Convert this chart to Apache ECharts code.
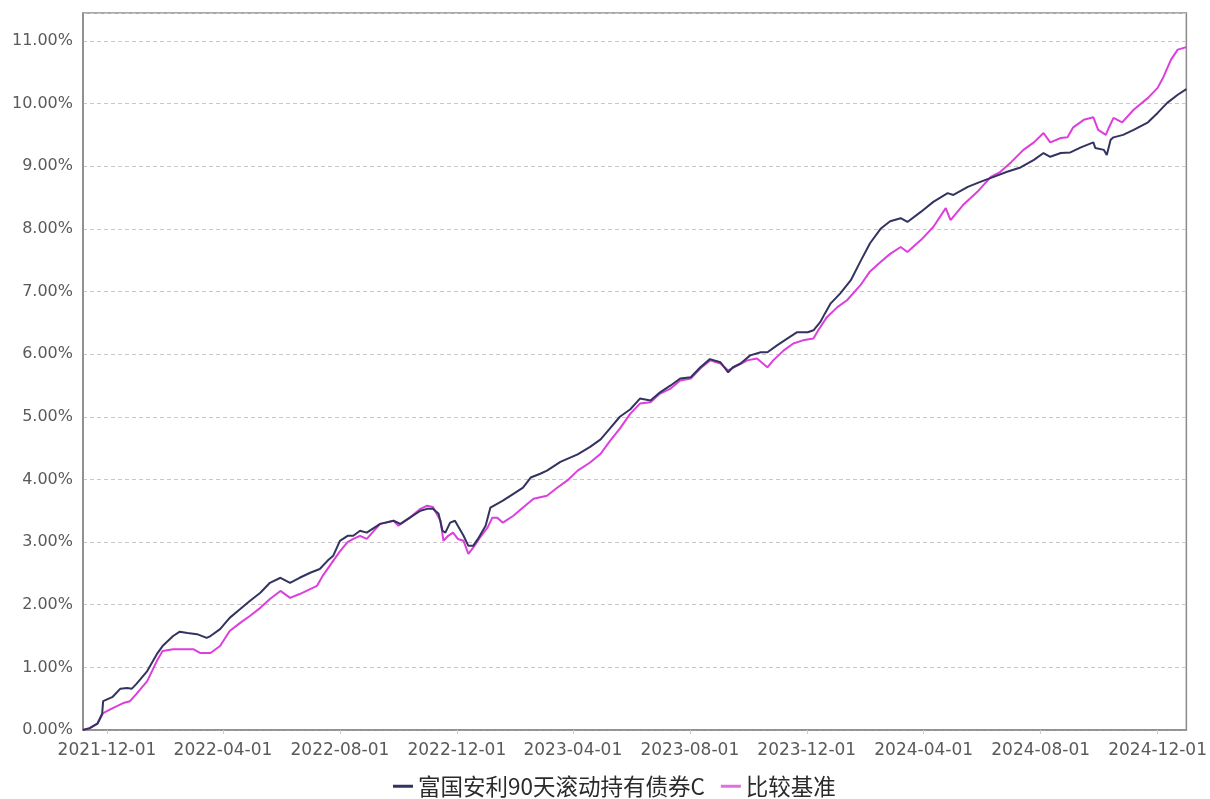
<!DOCTYPE html>
<html>
<head>
<meta charset="utf-8">
<script src="https://cdn.jsdelivr.net/npm/echarts@6/dist/echarts.min.js"></script>
<style>
html,body{margin:0;padding:0;background:#fff;}
#chart{width:1210px;height:799px;}
</style>
</head>
<body>
<div id="chart"></div>
<script>
var seriesNames = ['富国安利90天滚动持有债券C', '比较基准'];
var xTickLabels = ['2021-12-01','2022-04-01','2022-08-01','2022-12-01','2023-04-01','2023-08-01','2023-12-01','2024-04-01','2024-08-01','2024-12-01'];
var yTicks = [0,1,2,3,4,5,6,7,8,9,10,11];

var fundDates = ['2021-11-06','2021-11-13','2021-11-21','2021-11-26','2021-11-27','2021-12-07','2021-12-15','2021-12-22','2021-12-27','2022-01-01','2022-01-12','2022-01-22','2022-01-28','2022-02-08','2022-02-15','2022-02-23','2022-03-05','2022-03-15','2022-03-19','2022-03-29','2022-04-08','2022-04-19','2022-04-29','2022-05-10','2022-05-20','2022-05-31','2022-06-10','2022-06-20','2022-07-01','2022-07-11','2022-07-19','2022-07-25','2022-08-01','2022-08-09','2022-08-15','2022-08-22','2022-08-29','2022-09-12','2022-09-26','2022-10-03','2022-10-13','2022-10-24','2022-10-31','2022-11-06','2022-11-12','2022-11-16','2022-11-19','2022-11-24','2022-11-29','2022-12-02','2022-12-08','2022-12-13','2022-12-18','2022-12-23','2022-12-31','2023-01-05','2023-01-12','2023-01-18','2023-01-29','2023-02-08','2023-02-16','2023-02-26','2023-03-05','2023-03-19','2023-04-06','2023-04-19','2023-04-30','2023-05-10','2023-05-20','2023-05-31','2023-06-10','2023-06-21','2023-07-01','2023-07-12','2023-07-22','2023-08-02','2023-08-12','2023-08-22','2023-09-02','2023-09-10','2023-09-15','2023-09-23','2023-10-03','2023-10-14','2023-10-21','2023-10-31','2023-11-11','2023-11-21','2023-12-02','2023-12-08','2023-12-15','2023-12-20','2023-12-26','2024-01-05','2024-01-16','2024-01-26','2024-02-05','2024-02-16','2024-02-26','2024-03-08','2024-03-15','2024-03-29','2024-04-11','2024-04-26','2024-05-02','2024-05-17','2024-05-30','2024-06-13','2024-06-27','2024-07-11','2024-07-25','2024-08-04','2024-08-11','2024-08-22','2024-09-01','2024-09-12','2024-09-25','2024-09-27','2024-10-06','2024-10-09','2024-10-13','2024-10-16','2024-10-26','2024-11-06','2024-11-21','2024-12-01','2024-12-11','2024-12-22','2024-12-31'];
var fundValues = [0.00,0.03,0.10,0.26,0.46,0.53,0.66,0.67,0.66,0.74,0.94,1.21,1.34,1.50,1.57,1.55,1.53,1.47,1.50,1.61,1.79,1.93,2.06,2.19,2.35,2.43,2.35,2.43,2.51,2.57,2.70,2.78,3.02,3.10,3.10,3.18,3.15,3.29,3.34,3.29,3.39,3.50,3.53,3.53,3.45,3.18,3.15,3.31,3.34,3.26,3.10,2.94,2.94,3.05,3.26,3.55,3.61,3.66,3.77,3.87,4.03,4.09,4.14,4.28,4.40,4.52,4.64,4.82,5.00,5.12,5.29,5.26,5.39,5.50,5.61,5.63,5.79,5.92,5.87,5.71,5.79,5.85,5.98,6.03,6.03,6.14,6.25,6.35,6.35,6.38,6.51,6.65,6.81,6.97,7.18,7.48,7.77,8.00,8.12,8.17,8.11,8.27,8.43,8.57,8.54,8.67,8.75,8.83,8.91,8.98,9.10,9.21,9.15,9.21,9.22,9.30,9.38,9.29,9.26,9.18,9.42,9.46,9.50,9.58,9.70,9.85,10.01,10.14,10.23];

var benchDates = ['2021-11-06','2021-11-13','2021-11-21','2021-11-27','2021-12-07','2021-12-18','2021-12-25','2022-01-01','2022-01-12','2022-01-22','2022-01-28','2022-02-08','2022-02-18','2022-03-01','2022-03-08','2022-03-19','2022-03-29','2022-04-08','2022-04-19','2022-04-29','2022-05-10','2022-05-20','2022-05-31','2022-06-10','2022-06-20','2022-07-01','2022-07-08','2022-07-14','2022-07-25','2022-08-01','2022-08-09','2022-08-15','2022-08-22','2022-08-29','2022-09-12','2022-09-26','2022-10-01','2022-10-13','2022-10-24','2022-10-31','2022-11-06','2022-11-14','2022-11-17','2022-11-22','2022-11-27','2022-12-02','2022-12-08','2022-12-13','2022-12-18','2022-12-25','2023-01-02','2023-01-07','2023-01-12','2023-01-18','2023-01-29','2023-02-08','2023-02-19','2023-03-05','2023-03-16','2023-03-26','2023-04-06','2023-04-19','2023-04-30','2023-05-10','2023-05-20','2023-05-31','2023-06-10','2023-06-21','2023-07-01','2023-07-12','2023-07-22','2023-08-02','2023-08-12','2023-08-22','2023-09-02','2023-09-10','2023-09-20','2023-09-30','2023-10-10','2023-10-21','2023-10-27','2023-11-07','2023-11-17','2023-11-27','2023-12-08','2023-12-13','2023-12-22','2024-01-02','2024-01-12','2024-01-26','2024-02-05','2024-02-16','2024-02-26','2024-03-08','2024-03-15','2024-03-29','2024-04-11','2024-04-24','2024-04-29','2024-05-12','2024-05-27','2024-06-10','2024-06-20','2024-07-01','2024-07-14','2024-07-25','2024-08-04','2024-08-11','2024-08-22','2024-08-29','2024-09-04','2024-09-15','2024-09-25','2024-09-30','2024-10-08','2024-10-11','2024-10-16','2024-10-25','2024-11-06','2024-11-21','2024-12-01','2024-12-07','2024-12-15','2024-12-22','2024-12-31'];
var benchValues = [0.00,0.03,0.10,0.27,0.35,0.43,0.46,0.58,0.78,1.10,1.26,1.29,1.29,1.29,1.23,1.23,1.34,1.58,1.71,1.82,1.95,2.09,2.22,2.11,2.17,2.25,2.30,2.46,2.70,2.85,3.00,3.05,3.10,3.05,3.29,3.34,3.26,3.39,3.53,3.58,3.56,3.34,3.02,3.10,3.15,3.05,3.02,2.81,2.91,3.07,3.23,3.39,3.39,3.31,3.42,3.55,3.69,3.74,3.87,3.98,4.14,4.27,4.41,4.62,4.81,5.05,5.21,5.23,5.37,5.45,5.58,5.61,5.77,5.90,5.85,5.74,5.82,5.90,5.93,5.79,5.90,6.06,6.17,6.22,6.25,6.38,6.59,6.75,6.86,7.10,7.32,7.47,7.60,7.71,7.63,7.82,8.03,8.33,8.14,8.38,8.59,8.83,8.91,9.06,9.26,9.38,9.53,9.38,9.45,9.46,9.62,9.74,9.78,9.58,9.50,9.61,9.77,9.70,9.90,10.09,10.25,10.42,10.70,10.86,10.90];

function toTs(s) {
  var p = s.split('-');
  return new Date(+p[0], +p[1] - 1, +p[2]).getTime();
}
function pad(n) { return n < 10 ? '0' + n : '' + n; }
function fmtDate(v) {
  var d = new Date(v);
  return d.getFullYear() + '-' + pad(d.getMonth() + 1) + '-' + pad(d.getDate());
}
function pairs(dates, vals) {
  return dates.map(function (d, i) { return [toTs(d), vals[i]]; });
}

var xTickValues = xTickLabels.map(toTs);
var yMax = Math.max.apply(null, fundValues.concat(benchValues)) * 1.05;

var chart = echarts.init(document.getElementById('chart'), null, {renderer: 'canvas'});
chart.setOption({
  animation: false,
  backgroundColor: '#ffffff',
  grid: {
    left: 83, right: 23, top: 13, bottom: 69,
    show: true, borderColor: '#8a8a8a', borderWidth: 1.5, backgroundColor: 'transparent'
  },
  legend: {
    left: 388, top: 770,
    icon: 'rect', itemWidth: 20, itemHeight: 3, itemGap: 16,
    textStyle: {fontSize: 22.5, color: '#2a2a2a', fontFamily: '"Noto Sans CJK SC", sans-serif'},
    data: seriesNames
  },
  xAxis: {
    type: 'value',
    scale: true,
    min: toTs(fundDates[0]),
    max: toTs(fundDates[fundDates.length - 1]),
    axisLine: {show: true, onZero: false, lineStyle: {color: '#8a8a8a', width: 1.5}},
    axisTick: {show: true, length: 4, lineStyle: {color: '#cccccc'}, customValues: xTickValues},
    axisLabel: {
      customValues: xTickValues,
      formatter: function (v) { return fmtDate(v); },
      fontSize: 17, color: '#5a5a5a', fontFamily: '"DejaVu Sans", sans-serif', margin: 12,
      hideOverlap: false
    },
    splitLine: {show: false}
  },
  yAxis: {
    type: 'value',
    min: 0, max: yMax, interval: 1,
    axisLine: {show: true, lineStyle: {color: '#8a8a8a', width: 1.5}},
    axisTick: {show: false},
    axisLabel: {
      fontSize: 16, color: '#5a5a5a', fontFamily: '"DejaVu Sans", sans-serif', margin: 10,
      showMaxLabel: false,
      formatter: function (v) {
        return yTicks.indexOf(Math.round(v)) >= 0 && Math.abs(v - Math.round(v)) < 1e-6 ? v.toFixed(2) + '%' : '';
      }
    },
    splitLine: {show: true, lineStyle: {color: '#c8c8c8', type: [4, 3], width: 1}}
  },
  series: [
    {
      name: seriesNames[0], type: 'line', showSymbol: false, z: 4,
      lineStyle: {color: '#33335f', width: 2}, itemStyle: {color: '#33335f'},
      data: pairs(fundDates, fundValues)
    },
    {
      name: seriesNames[1], type: 'line', showSymbol: false, z: 3,
      lineStyle: {color: '#dc3fdc', width: 2}, itemStyle: {color: '#e070e0'},
      data: pairs(benchDates, benchValues)
    }
  ]
});
</script>
</body>
</html>
